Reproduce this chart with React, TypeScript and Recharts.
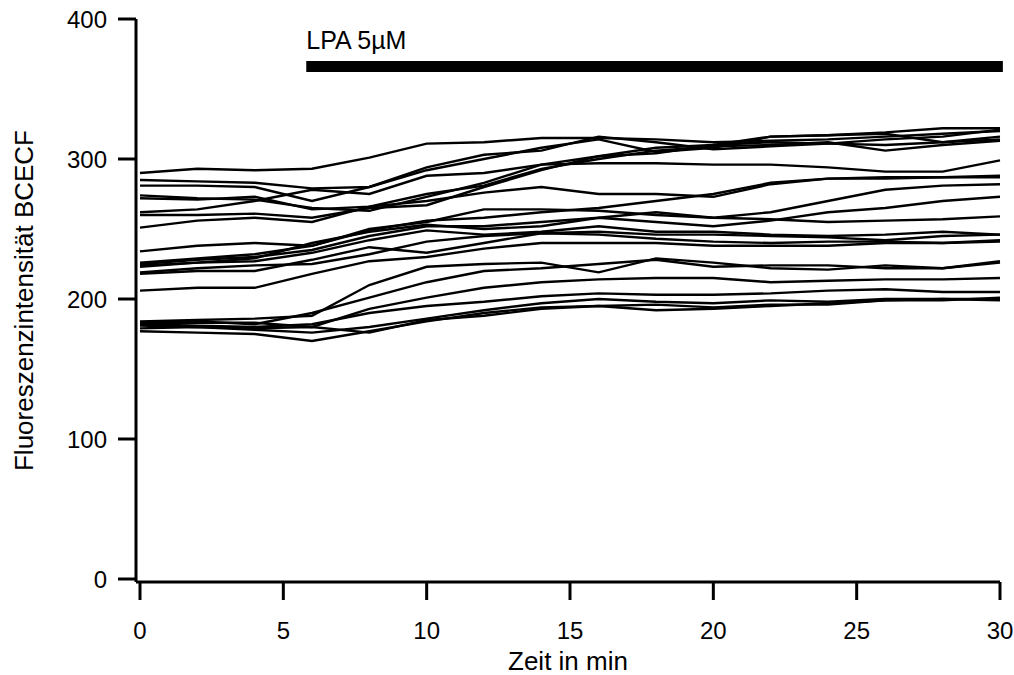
import React from 'react';
import { LineChart, Line, XAxis, YAxis, ReferenceLine, ReferenceDot } from 'recharts';

// Sampling times (min)
const TIMES = [0, 2, 4, 6, 8, 10, 12, 14, 16, 18, 20, 22, 24, 26, 28, 30];

// BCECF fluorescence per cell
const CELL_01 = [290, 293, 292, 293, 301, 311, 312, 315, 315, 314, 312, 313, 314, 316, 318, 320];
const CELL_02 = [285, 284, 283, 279, 280, 294, 303, 306, 316, 312, 307, 309, 311, 314, 316, 321];
const CELL_03 = [281, 281, 280, 270, 280, 292, 300, 308, 314, 305, 308, 316, 317, 319, 322, 322];
const CELL_04 = [274, 272, 271, 265, 263, 273, 283, 296, 302, 304, 310, 312, 311, 310, 312, 314];
const CELL_05 = [272, 271, 273, 264, 266, 275, 281, 293, 300, 306, 309, 310, 312, 306, 310, 313];
const CELL_06 = [262, 264, 270, 278, 275, 288, 290, 296, 297, 297, 296, 296, 294, 291, 291, 299];
const CELL_07 = [260, 260, 261, 258, 265, 267, 280, 292, 302, 308, 310, 316, 317, 318, 312, 316];
const CELL_08 = [251, 256, 258, 255, 266, 270, 276, 280, 275, 275, 273, 282, 286, 287, 287, 287];
const CELL_09 = [234, 238, 240, 238, 250, 255, 264, 264, 263, 260, 258, 257, 255, 256, 257, 259];
const CELL_10 = [226, 229, 232, 238, 249, 256, 258, 262, 265, 270, 275, 283, 286, 286, 287, 288];
const CELL_11 = [225, 228, 230, 235, 245, 252, 252, 255, 258, 262, 258, 262, 270, 278, 281, 282];
const CELL_12 = [224, 226, 229, 240, 248, 253, 250, 252, 258, 255, 252, 256, 262, 265, 270, 273];
const CELL_13 = [223, 226, 227, 233, 242, 249, 246, 248, 252, 248, 248, 246, 245, 246, 248, 246];
const CELL_14 = [219, 222, 224, 225, 232, 241, 245, 247, 248, 246, 246, 245, 244, 242, 245, 246];
const CELL_15 = [218, 220, 220, 228, 237, 233, 240, 247, 246, 243, 241, 240, 241, 241, 240, 242];
const CELL_16 = [206, 208, 208, 218, 227, 230, 236, 240, 240, 240, 238, 238, 238, 240, 240, 241];
const CELL_17 = [184, 185, 186, 188, 210, 223, 225, 226, 219, 229, 226, 222, 221, 224, 222, 227];
const CELL_18 = [183, 184, 182, 190, 201, 212, 220, 222, 225, 228, 223, 224, 224, 222, 222, 226];
const CELL_19 = [182, 183, 183, 180, 193, 201, 208, 212, 214, 215, 215, 212, 213, 214, 214, 215];
const CELL_20 = [182, 181, 180, 182, 190, 195, 198, 202, 204, 203, 203, 204, 206, 207, 205, 205];
const CELL_21 = [179, 180, 178, 176, 180, 186, 192, 197, 200, 198, 197, 199, 198, 200, 200, 200];
const CELL_22 = [177, 176, 175, 170, 177, 184, 190, 194, 195, 196, 194, 196, 196, 199, 200, 199];
const CELL_23 = [181, 180, 179, 180, 176, 185, 188, 193, 195, 192, 193, 195, 197, 199, 199, 201];

const CELLS = [
  CELL_01, CELL_02, CELL_03, CELL_04, CELL_05, CELL_06, CELL_07, CELL_08,
  CELL_09, CELL_10, CELL_11, CELL_12, CELL_13, CELL_14, CELL_15, CELL_16,
  CELL_17, CELL_18, CELL_19, CELL_20, CELL_21, CELL_22, CELL_23,
];

// LPA application bar
const LPA_START = 5.8;
const LPA_END = 30.1;
const LPA_LEVEL = 366;
const LPA_TEXT_LEVEL = 385;

const X_TICKS = [0, 5, 10, 15, 20, 25, 30];
const Y_TICKS = [0, 100, 200, 300, 400];

const FONT = '"Liberation Sans", Arial, sans-serif';

export default function App() {
  const rows = React.useMemo(
    () =>
      TIMES.map((t, i) => {
        const row: { [key: string]: number } = { t };
        CELLS.forEach((cell, c) => {
          row[`c${c}`] = cell[i];
        });
        return row;
      }),
    []
  );

  const axisLine = { stroke: '#000', strokeWidth: 3 };
  const tickStyle = { fill: '#000', fontSize: 24, fontFamily: FONT };

  return (
    <div style={{ position: 'absolute', left: 0, top: 0, background: '#fff', fontFamily: FONT }}>
      <LineChart width={1014} height={675} data={rows} margin={{ top: 19, right: 14, left: 0, bottom: 3 }}>
        <XAxis
          dataKey="t"
          type="number"
          domain={[0, 30]}
          ticks={X_TICKS}
          padding={{ left: 4, right: 0 }}
          height={90}
          tickSize={18}
          tickMargin={22}
          axisLine={axisLine}
          tickLine={axisLine}
          tick={tickStyle}
          label={{ value: 'Zeit in min', position: 'insideBottom', offset: 2, fill: '#000', fontSize: 26, fontFamily: FONT }}
        />
        <YAxis
          type="number"
          domain={[0, 400]}
          ticks={Y_TICKS}
          padding={{ top: 0, bottom: 3 }}
          width={136}
          tickSize={18}
          tickMargin={11}
          axisLine={axisLine}
          tickLine={axisLine}
          tick={tickStyle}
          label={{
            value: 'Fluoreszenzintensität BCECF',
            angle: -90,
            position: 'insideLeft',
            offset: 24,
            fill: '#000',
            fontSize: 26,
            fontFamily: FONT,
            style: { textAnchor: 'middle' },
          }}
        />
        {CELLS.map((_, c) => (
          <Line
            key={`c${c}`}
            dataKey={`c${c}`}
            type="linear"
            stroke="#000"
            strokeWidth={2.4}
            dot={false}
            activeDot={false}
            isAnimationActive={false}
          />
        ))}
        <ReferenceLine
          segment={[
            { x: LPA_START, y: LPA_LEVEL },
            { x: LPA_END, y: LPA_LEVEL },
          ]}
          stroke="#000"
          strokeWidth={11}
          ifOverflow="visible"
        />
        <ReferenceDot
          x={LPA_START}
          y={LPA_TEXT_LEVEL}
          r={0}
          fill="none"
          stroke="none"
          ifOverflow="visible"
          label={{ value: 'LPA 5µM', position: 'right', offset: 0, fill: '#000', fontSize: 25, fontFamily: FONT }}
        />
      </LineChart>
    </div>
  );
}
